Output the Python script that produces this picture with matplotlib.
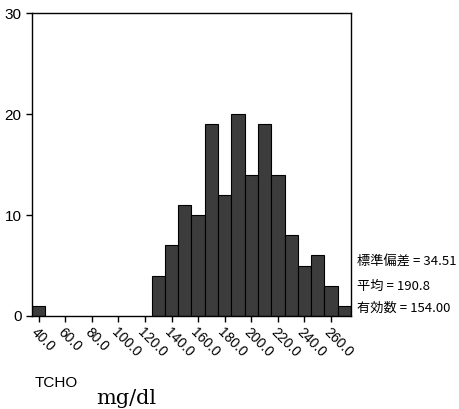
import numpy as np
import matplotlib.pyplot as plt

# ヒストグラムのデータ (階級の中心, 度数)
bin_centers = [40, 130, 140, 150, 160, 170, 180, 190, 200, 210, 220, 230, 240, 250, 260, 270]
counts = [1, 4, 7, 11, 10, 19, 12, 20, 14, 19, 14, 8, 5, 6, 3, 1]
tick_values = [40, 60, 80, 100, 120, 140, 160, 180, 200, 220, 240, 260]
tick_labels = ["%.1f" % v for v in tick_values]
stats = ["標準偏差 = 34.51", "平均 = 190.8", "有効数 = 154.00"]

plt.rcParams["font.family"] = ["Liberation Sans", "DejaVu Sans"]

fig = plt.figure(figsize=(4.6, 4.09), dpi=100)
ax = fig.add_axes([0.0696, 0.2274, 0.6934, 0.7406])

ax.bar(bin_centers, counts, width=10, facecolor="#3c3c3c", edgecolor="black", linewidth=0.8)

ax.set_xlim(35, 275)
ax.set_ylim(0, 30)
ax.set_yticks([0, 10, 20, 30])
ax.set_xticks(tick_values)
ax.set_xticklabels(tick_labels, rotation=-45, ha="left", va="top", rotation_mode="anchor",
                   fontsize=10)
ax.tick_params(axis="y", labelsize=11, length=4, width=1)
ax.tick_params(axis="x", length=4, width=1, pad=3)
for s in ax.spines.values():
    s.set_linewidth(1)

jp = ["Noto Sans CJK JP", "DejaVu Sans"]
ys = [262, 286, 308]
for txt, y in zip(stats, ys):
    fig.text(357 / 460, 1 - y / 409, txt, fontsize=9.5, family=jp, va="center", ha="left")

fig.text(35 / 460, 1 - 383 / 409, "TCHO", fontsize=11, va="center", ha="left")
fig.text(96 / 460, 1 - 398 / 409, "mg/dl", fontsize=15, family="DejaVu Serif",
         va="center", ha="left")

fig.savefig("out.png", dpi=100)
